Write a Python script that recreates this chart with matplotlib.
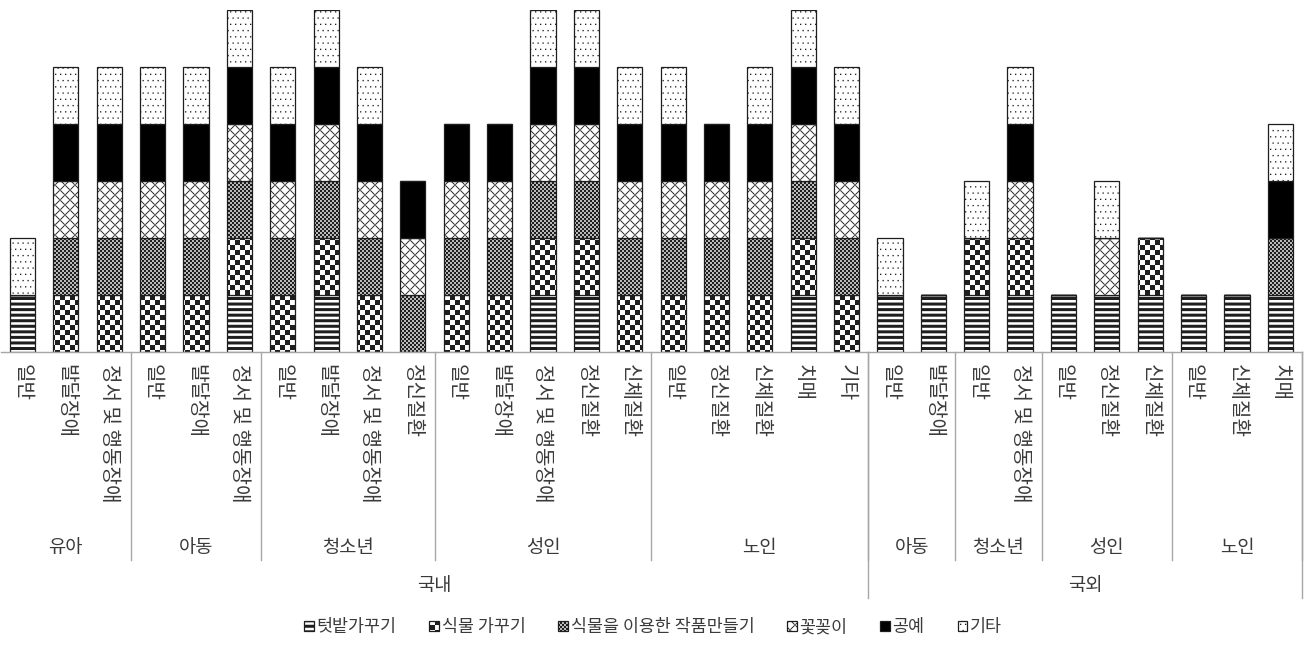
import warnings
warnings.filterwarnings("ignore")
import numpy as np
import matplotlib
matplotlib.use("Agg")
import matplotlib.pyplot as plt
from matplotlib import hatch as mhatch
from matplotlib.path import Path
from matplotlib.lines import Line2D

plt.rcParams['font.family'] = ['Noto Sans CJK KR', 'DejaVu Sans']
plt.rcParams['hatch.linewidth'] = 0.01

# ---------------- data ----------------
regions = ['국내', '국외']
region_groups = [['유아', '아동', '청소년', '성인', '노인'],
                 ['아동', '청소년', '성인', '노인']]
subgroups = [
    ['일반', '발달장애', '정서 및 행동장애'],
    ['일반', '발달장애', '정서 및 행동장애'],
    ['일반', '발달장애', '정서 및 행동장애', '정신질환'],
    ['일반', '발달장애', '정서 및 행동장애', '정신질환', '신체질환'],
    ['일반', '정신질환', '신체질환', '치매', '기타'],
    ['일반', '발달장애'],
    ['일반', '정서 및 행동장애'],
    ['일반', '정신질환', '신체질환'],
    ['일반', '신체질환', '치매'],
]
series = ['텃밭가꾸기', '식물 가꾸기', '식물을 이용한 작품만들기', '꽃꽂이', '공예', '기타']
텃밭가꾸기 = [1, 0, 0, 0, 0, 1, 0, 1, 0, 0, 0, 0, 1, 1, 0, 0, 0, 0, 1, 0,
          1, 1, 1, 1, 1, 1, 1, 1, 1, 1]
식물가꾸기 = [0, 1, 1, 1, 1, 1, 1, 1, 1, 0, 1, 1, 1, 1, 1, 1, 1, 1, 1, 1,
         0, 0, 1, 1, 0, 0, 1, 0, 0, 0]
작품만들기 = [0, 1, 1, 1, 1, 1, 1, 1, 1, 1, 1, 1, 1, 1, 1, 1, 1, 1, 1, 1,
         0, 0, 0, 0, 0, 0, 0, 0, 0, 1]
꽃꽂이 = [0, 1, 1, 1, 1, 1, 1, 1, 1, 1, 1, 1, 1, 1, 1, 1, 1, 1, 1, 1,
       0, 0, 0, 1, 0, 1, 0, 0, 0, 0]
공예 = [0, 1, 1, 1, 1, 1, 1, 1, 1, 1, 1, 1, 1, 1, 1, 1, 1, 1, 1, 1,
      0, 0, 0, 1, 0, 0, 0, 0, 0, 1]
기타 = [1, 1, 1, 1, 1, 1, 1, 1, 1, 0, 0, 0, 1, 1, 1, 1, 0, 1, 1, 1,
      1, 0, 1, 1, 0, 1, 0, 0, 0, 1]
values = [텃밭가꾸기, 식물가꾸기, 작품만들기, 꽃꽂이, 공예, 기타]

# ---------------- custom fill-based hatch patterns ----------------
class _PolyHatch(mhatch.HatchPatternBase):
    key = None

    def __init__(self, hatch, density):
        self.polys = self.build() if (hatch and self.key in hatch) else []
        self.num_vertices = sum(len(p) + 1 for p in self.polys)

    @staticmethod
    def rect(x0, y0, x1, y1):
        return [(x0, y0), (x1, y0), (x1, y1), (x0, y1)]

    def set_vertices_and_codes(self, vertices, codes):
        i = 0
        for p in self.polys:
            n = len(p)
            vertices[i:i + n] = p
            vertices[i + n] = p[0]
            codes[i] = Path.MOVETO
            codes[i + 1:i + n] = Path.LINETO
            codes[i + n] = Path.CLOSEPOLY
            i += n + 1


class StripeHatch(_PolyHatch):
    key = 'h'

    def build(self):
        n = 18
        return [self.rect(-0.01, k / n, 1.01, k / n + 0.03) for k in range(n)]


class CheckerHatch(_PolyHatch):
    key = 'c'

    def build(self):
        n = 20
        return [self.rect(i / n, j / n, (i + 1) / n, (j + 1) / n)
                for i in range(n) for j in range(n) if (i + j) % 2 == 0]


class GrayHatch(_PolyHatch):
    key = 'g'

    def build(self):
        n = 50
        return [self.rect(i / n, j / n, (i + 1) / n, (j + 1) / n)
                for i in range(n) for j in range(n) if (i + j) % 2 == 0]


class CrossHatch(_PolyHatch):
    key = 'k'

    def build(self):
        n = 10
        wh = 0.009 * np.sqrt(2) / 2
        polys = []
        for k in range(-n - 1, n + 2):
            c = k / n
            polys.append([(c - 0.1 - wh, -0.1), (c - 0.1 + wh, -0.1),
                          (c + 1.1 + wh, 1.1), (c + 1.1 - wh, 1.1)])
        for k in range(0, 2 * n + 2):
            c = k / n
            polys.append([(c + 0.1 - wh, -0.1), (c + 0.1 + wh, -0.1),
                          (c - 1.1 + wh, 1.1), (c - 1.1 - wh, 1.1)][::-1])
        return polys


class DotHatch(_PolyHatch):
    key = 'd'

    def build(self):
        rows, cols, s = 16, 20, 0.013
        polys = []
        for r in range(rows):
            off = 0.5 / cols if r % 2 else 0.0
            for c in range(cols):
                x = c / cols + off
                y = r / rows
                polys.append(self.rect(x, y, x + s, y + s))
        return polys


mhatch._hatch_types.extend([StripeHatch, CheckerHatch, GrayHatch, CrossHatch, DotHatch])

styles = [
    dict(facecolor='white', hatch='h'),
    dict(facecolor='white', hatch='c'),
    dict(facecolor='#bdbdbd', hatch='g'),
    dict(facecolor='white', hatch='k'),
    dict(facecolor='black', hatch=None),
    dict(facecolor='white', hatch='d'),
]

# ---------------- figure ----------------
W, H = 1311, 645
fig = plt.figure(figsize=(W / 100, H / 100), dpi=100)
ax_bottom_px, ax_top_px = 352, 10
ax_left_px, ax_right_px = 0.8, 1302
ax = fig.add_axes([ax_left_px / W, 1 - ax_bottom_px / H,
                   (ax_right_px - ax_left_px) / W, (ax_bottom_px - ax_top_px) / H])

labels = [s for g in subgroups for s in g]
x = np.arange(len(labels))
bottom = np.zeros(len(labels))
handles = []
for name, vals, st in zip(series, values, styles):
    vals = np.array(vals, dtype=float)
    bc = ax.bar(x, vals, width=0.58, bottom=bottom, facecolor=st['facecolor'],
                hatch=st['hatch'], edgecolor='#1e1e1e', linewidth=0.9, label=name)
    handles.append(bc)
    bottom += vals

ax.set_xlim(-0.5, len(labels) - 0.5)
ax.set_ylim(0, 6)
for s in ['left', 'right', 'top']:
    ax.spines[s].set_visible(False)
ax.spines['bottom'].set_color('#a6a6a6')
ax.spines['bottom'].set_linewidth(1.0)
ax.set_yticks([])
ax.set_xticks(x)
ax.set_xticklabels(labels, rotation=270, fontsize=14.5, color='#3a3a3a')
ax.tick_params(axis='x', length=0, pad=9)

axh = ax_bottom_px - ax_top_px
def ay(px):
    return (ax_bottom_px - px) / axh

trans = ax.get_xaxis_transform()
sep_color = '#a6a6a6'
pos = 0
gi = 0
for r, groups in zip(regions, region_groups):
    rstart = pos
    for g in groups:
        n = len(subgroups[gi])
        ax.text(pos + (n - 1) / 2, ay(548), g, transform=trans, ha='center', va='center',
                fontsize=13.5, color='#3a3a3a')
        pos += n
        gi += 1
        ax.add_line(Line2D([pos - 0.5, pos - 0.5], [0, ay(560)], transform=trans,
                           color=sep_color, lw=1.0, clip_on=False))
    ax.text((rstart + pos - 1) / 2, ay(585), r, transform=trans, ha='center', va='center',
            fontsize=13.5, color='#3a3a3a')
    ax.add_line(Line2D([pos - 0.5, pos - 0.5], [0, ay(598)], transform=trans,
                       color=sep_color, lw=1.0, clip_on=False))

fig.legend(handles=handles, labels=series, loc='center', ncol=6, frameon=False,
           bbox_to_anchor=(653 / W, 1 - 627 / H), fontsize=12.5,
           handlelength=0.55, handleheight=0.55, handletextpad=0.15, columnspacing=1.9,
           labelcolor='#3a3a3a')

fig.savefig('out.png', dpi=100)
